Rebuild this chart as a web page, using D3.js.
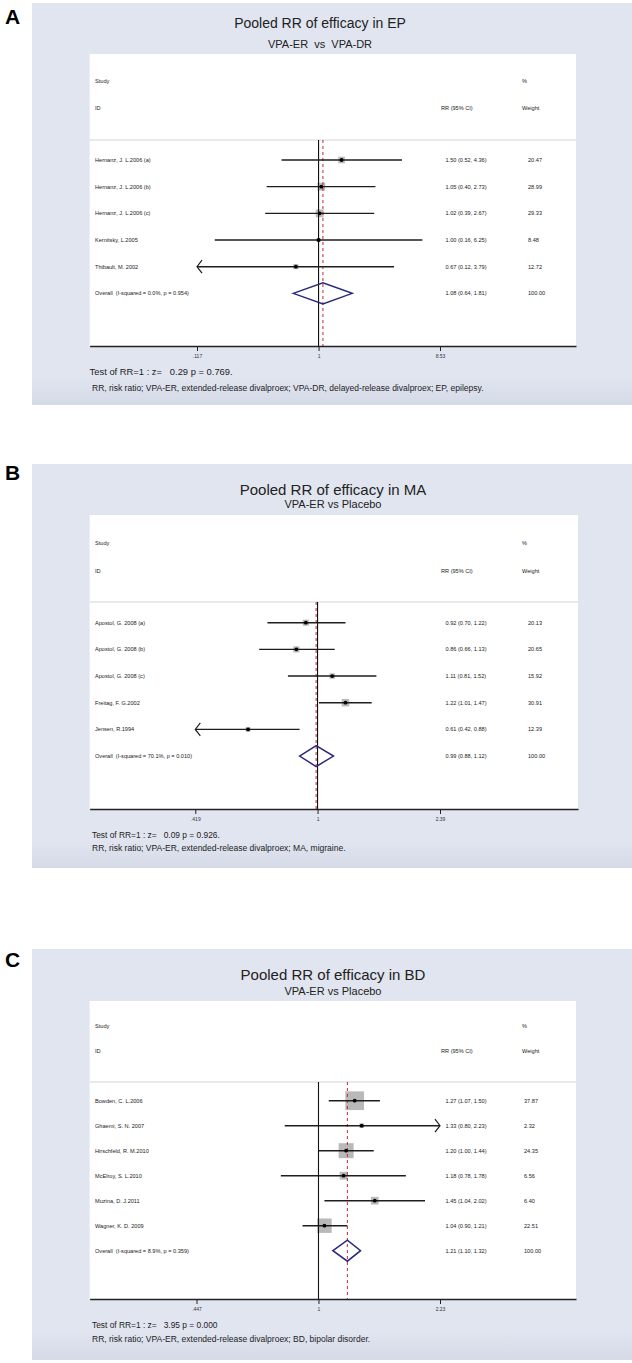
<!DOCTYPE html>
<html>
<head>
<meta charset="utf-8">
<script src="https://cdn.jsdelivr.net/npm/d3@7"></script>
<style>
  body { margin: 0; background: #fff; }
  text { font-family: "Liberation Sans", Arial, Helvetica, sans-serif; fill: #222; white-space: pre; }
</style>
</head>
<body>
<div id="chart"></div>
<script>
'use strict';

// ---- panel A : EP ----
var studiesA = ['Hernanz, J. L.2006 (a)', 'Hernanz, J. L.2006 (b)', 'Hernanz, J. L.2006 (c)', 'Kernitsky, L.2005', 'Thibault, M. 2002'];
var rrA = [1.50, 1.05, 1.02, 1.00, 0.67];
var loA = [0.52, 0.40, 0.39, 0.16, 0.117];
var hiA = [4.36, 2.73, 2.67, 6.25, 3.79];
var weightA = [20.47, 28.99, 29.33, 8.48, 12.72];
var overallA = [1.08, 0.64, 1.81];
var ticksA = [0.117, 1, 8.53];
var tickLabelsA = ['.117', '1', '8.53'];

// ---- panel B : MA ----
var studiesB = ['Apostol, G. 2008 (a)', 'Apostol, G. 2008 (b)', 'Apostol, G. 2008 (c)', 'Freitag, F. G.2002', 'Jensen, R.1994'];
var rrB = [0.92, 0.86, 1.11, 1.22, 0.61];
var loB = [0.70, 0.66, 0.81, 1.01, 0.419];
var hiB = [1.22, 1.13, 1.52, 1.47, 0.88];
var weightB = [20.13, 20.65, 15.92, 30.91, 12.39];
var overallB = [0.99, 0.88, 1.12];
var ticksB = [0.419, 1, 2.39];
var tickLabelsB = ['.419', '1', '2.39'];

// ---- panel C : BD ----
var studiesC = ['Bowden, C. L.2006', 'Ghaemi, S. N. 2007', 'Hirschfeld, R. M.2010', 'McElroy, S. L.2010', 'Muzina, D. J.2011', 'Wagner, K. D. 2009'];
var rrC = [1.27, 1.33, 1.20, 1.18, 1.45, 1.04];
var loC = [1.07, 0.80, 1.00, 0.78, 1.04, 0.90];
var hiC = [1.50, 2.23, 1.44, 1.78, 2.02, 1.21];
var weightC = [37.87, 2.32, 24.35, 6.56, 6.40, 22.51];
var overallC = [1.21, 1.10, 1.32];
var ticksC = [0.447, 1, 2.23];
var tickLabelsC = ['.447', '1', '2.23'];

var titles = ['Pooled RR of efficacy in EP', 'Pooled RR of efficacy in MA', 'Pooled RR of efficacy in BD'];
var subtitles = ['VPA-ER  vs  VPA-DR', 'VPA-ER vs Placebo', 'VPA-ER vs Placebo'];
var hetero = ['I-squared = 0.0%, p = 0.954', 'I-squared = 70.1%, p = 0.010', 'I-squared = 8.9%, p = 0.359'];
var tests = ['Test of RR=1 : z=   0.29 p = 0.769.', 'Test of RR=1 : z=   0.09 p = 0.926.', 'Test of RR=1 : z=   3.95 p = 0.000'];
var notes = [
  'RR, risk ratio; VPA-ER, extended-release divalproex; VPA-DR, delayed-release divalproex; EP, epilepsy.',
  'RR, risk ratio; VPA-ER, extended-release divalproex; MA, migraine.',
  'RR, risk ratio; VPA-ER, extended-release divalproex; BD, bipolar disorder.'
];

var f2 = d3.format('.2f');

var svg = d3.select('#chart').append('svg')
    .attr('width', 632)
    .attr('height', 1363);

var grad = svg.append('defs').append('linearGradient')
    .attr('id', 'bg').attr('x1', 0).attr('y1', 0).attr('x2', 0).attr('y2', 1);
grad.append('stop').attr('offset', 0).attr('stop-color', '#e1e5f0');
grad.append('stop').attr('offset', 0.93).attr('stop-color', '#e1e5f0');
grad.append('stop').attr('offset', 1).attr('stop-color', '#d5dae7');

function drawPanel(d, lay) {
    var g = svg.append('g');
    var left = 89.6;

    g.append('rect')
        .attr('x', 32).attr('y', lay.top)
        .attr('width', 600).attr('height', lay.bottom - lay.top)
        .attr('fill', 'url(#bg)');

    g.append('text')
        .attr('x', 5).attr('y', lay.letterY)
        .attr('font-size', 21).attr('font-weight', 'bold')
        .style('fill', '#000')
        .text(lay.letter);

    g.append('text')
        .attr('x', lay.titleX).attr('y', lay.titleY)
        .attr('text-anchor', 'middle')
        .attr('font-size', lay.titleSize)
        .text(d.title);

    g.append('text')
        .attr('x', lay.titleX).attr('y', lay.subY)
        .attr('text-anchor', 'middle')
        .attr('font-size', 11)
        .text(d.subtitle);

    // white plot region
    g.append('rect')
        .attr('x', left).attr('y', lay.plotTop)
        .attr('width', lay.plotRight - left).attr('height', lay.plotBottom - lay.plotTop)
        .attr('fill', '#fff');

    g.append('line')
        .attr('x1', left).attr('x2', lay.plotRight)
        .attr('y1', lay.sepY).attr('y2', lay.sepY)
        .attr('stroke', '#d2d4dc').attr('stroke-width', 1);

    var hdr = [['Study', 95, lay.studyY], ['%', 522, lay.studyY], ['ID', 95, lay.idY],
               ['RR (95% CI)', 441, lay.idY], ['Weight', 522, lay.idY]];
    g.selectAll('text.hdr').data(hdr).enter().append('text')
        .attr('class', 'hdr')
        .attr('x', function (h) { return h[1]; })
        .attr('y', function (h) { return h[2]; })
        .attr('font-size', 5.6)
        .text(function (h) { return h[0]; });

    var xmin = d.ticks[0], xmax = d.ticks[d.ticks.length - 1];
    var x0 = d3.scaleLog().domain([xmin, xmax]).range(lay.range);
    var x = x0.copy().domain([x0.invert(left), x0.invert(lay.plotRight)]).range([left, lay.plotRight]);

    var n = d.studies.length;
    var y = d3.scaleLinear().domain([0, n]).range([lay.row0, lay.row0 + n * lay.step]);
    var side = d3.scaleSqrt().domain([0, 100]).range([0, lay.maxSide]);

    var rows = d.studies.map(function (s, i) {
        return {study: s, rr: d.rr[i], lo: d.lo[i], hi: d.hi[i], w: d.weight[i], i: i};
    });

    // weight boxes
    g.selectAll('rect.box').data(rows).enter().append('rect')
        .attr('class', 'box')
        .attr('x', function (r) { return x(r.rr) - side(r.w) / 2; })
        .attr('y', function (r) { return y(r.i) - side(r.w) / 2; })
        .attr('width', function (r) { return side(r.w); })
        .attr('height', function (r) { return side(r.w); })
        .attr('fill', '#b9b9b9');

    // null line and overall line
    g.append('line')
        .attr('x1', x(1)).attr('x2', x(1))
        .attr('y1', lay.sepY).attr('y2', lay.plotBottom)
        .attr('stroke', '#111').attr('stroke-width', 1.1);

    g.append('line')
        .attr('x1', x(d.overall[0])).attr('x2', x(d.overall[0]))
        .attr('y1', lay.sepY).attr('y2', lay.plotBottom)
        .attr('stroke', '#c4262e').attr('stroke-width', 1)
        .attr('stroke-dasharray', '3,3');

    // CI lines
    g.selectAll('line.ci').data(rows).enter().append('line')
        .attr('class', 'ci')
        .attr('x1', function (r) { return x(Math.max(r.lo, xmin)); })
        .attr('x2', function (r) { return x(Math.min(r.hi, xmax)); })
        .attr('y1', function (r) { return y(r.i); })
        .attr('y2', function (r) { return y(r.i); })
        .attr('stroke', '#1e1e1e').attr('stroke-width', 1.4);

    // arrows where the CI runs off the scale
    g.selectAll('path.arrow').data(rows.filter(function (r) {
        return r.lo <= xmin + 1e-9 || r.hi >= xmax - 1e-9;
    })).enter().append('path')
        .attr('class', 'arrow')
        .attr('d', function (r) {
            var cy = y(r.i);
            if (r.lo <= xmin + 1e-9) {
                var tx = x(xmin);
                return 'M' + (tx + 5) + ',' + (cy - 6.5) + 'L' + tx + ',' + cy + 'L' + (tx + 5) + ',' + (cy + 6.5);
            }
            var tx2 = x(xmax);
            return 'M' + (tx2 - 5) + ',' + (cy - 6.5) + 'L' + tx2 + ',' + cy + 'L' + (tx2 - 5) + ',' + (cy + 6.5);
        })
        .attr('fill', 'none').attr('stroke', '#1e1e1e').attr('stroke-width', 1.2);

    g.selectAll('circle.pt').data(rows).enter().append('circle')
        .attr('class', 'pt')
        .attr('cx', function (r) { return x(r.rr); })
        .attr('cy', function (r) { return y(r.i); })
        .attr('r', 1.9)
        .attr('fill', '#000');

    // overall diamond
    var oy = y(n);
    g.append('path')
        .attr('d', 'M' + x(d.overall[1]) + ',' + oy +
                   'L' + x(d.overall[0]) + ',' + (oy - 10.5) +
                   'L' + x(d.overall[2]) + ',' + oy +
                   'L' + x(d.overall[0]) + ',' + (oy + 10.5) + 'Z')
        .attr('fill', 'none').attr('stroke', '#28297e').attr('stroke-width', 1.5);

    // row texts
    var labels = rows.map(function (r) {
        return [r.study, f2(r.rr) + ' (' + f2(r.lo) + ', ' + f2(r.hi) + ')', f2(r.w), r.i];
    });
    labels.push(['Overall  (' + d.het + ')',
                 f2(d.overall[0]) + ' (' + f2(d.overall[1]) + ', ' + f2(d.overall[2]) + ')', '100.00', n]);

    [[0, 95], [1, 445.5], [2, lay.wX]].forEach(function (col) {
        g.selectAll('text.c' + col[0]).data(labels).enter().append('text')
            .attr('class', 'c' + col[0])
            .attr('x', col[1])
            .attr('y', function (l) { return y(l[3]) + 2; })
            .attr('font-size', 5.6)
            .text(function (l) { return l[col[0]]; });
    });

    // axis
    var axis = d3.axisBottom(x)
        .tickValues(d.ticks)
        .tickFormat(function (v, i) { return d.tickLabels[i]; })
        .tickSizeInner(5).tickSizeOuter(0).tickPadding(3);
    var ag = g.append('g')
        .attr('transform', 'translate(0,' + lay.plotBottom + ')')
        .call(axis);
    ag.select('.domain').attr('stroke', '#222').attr('stroke-width', 1.4);
    ag.selectAll('.tick line').attr('stroke', '#222');
    ag.selectAll('.tick text').attr('font-size', 5).attr('font-family', null).style('fill', '#333');

    g.append('text')
        .attr('x', lay.testX).attr('y', lay.testY)
        .attr('font-size', lay.testSize)
        .text(d.test);

    g.append('text')
        .attr('x', 92).attr('y', lay.noteY)
        .attr('font-size', 8.5)
        .text(d.note);
}

drawPanel(
    {title: titles[0], subtitle: subtitles[0], studies: studiesA, rr: rrA, lo: loA, hi: hiA, weight: weightA,
     overall: overallA, het: hetero[0], ticks: ticksA, tickLabels: tickLabelsA, test: tests[0], note: notes[0]},
    {letter: 'A', top: 3, bottom: 405, letterY: 24, titleX: 320, titleY: 28, titleSize: 14, subY: 48,
     plotTop: 54, plotBottom: 346, plotRight: 576, studyY: 83, idY: 110, sepY: 140,
     row0: 160, step: 26.67, range: [197, 440], maxSide: 14.5, wX: 528,
     testX: 89.6, testY: 375, testSize: 9.4, noteY: 390.5});

drawPanel(
    {title: titles[1], subtitle: subtitles[1], studies: studiesB, rr: rrB, lo: loB, hi: hiB, weight: weightB,
     overall: overallB, het: hetero[1], ticks: ticksB, tickLabels: tickLabelsB, test: tests[1], note: notes[1]},
    {letter: 'B', top: 464, bottom: 868, letterY: 480, titleX: 333, titleY: 495, titleSize: 15, subY: 508,
     plotTop: 515, plotBottom: 809, plotRight: 578, studyY: 545, idY: 573, sepY: 602,
     row0: 622.7, step: 26.67, range: [195.3, 440], maxSide: 13.5, wX: 528,
     testX: 92, testY: 837.5, testSize: 8.4, noteY: 851});

drawPanel(
    {title: titles[2], subtitle: subtitles[2], studies: studiesC, rr: rrC, lo: loC, hi: hiC, weight: weightC,
     overall: overallC, het: hetero[2], ticks: ticksC, tickLabels: tickLabelsC, test: tests[2], note: notes[2]},
    {letter: 'C', top: 949, bottom: 1360, letterY: 967, titleX: 333, titleY: 980, titleSize: 15, subY: 995,
     plotTop: 1001, plotBottom: 1299, plotRight: 576, studyY: 1028, idY: 1053, sepY: 1082,
     row0: 1100.7, step: 25, range: [196.5, 440], maxSide: 30.4, wX: 524,
     testX: 92, testY: 1328, testSize: 8.4, noteY: 1342});
</script>
</body>
</html>
